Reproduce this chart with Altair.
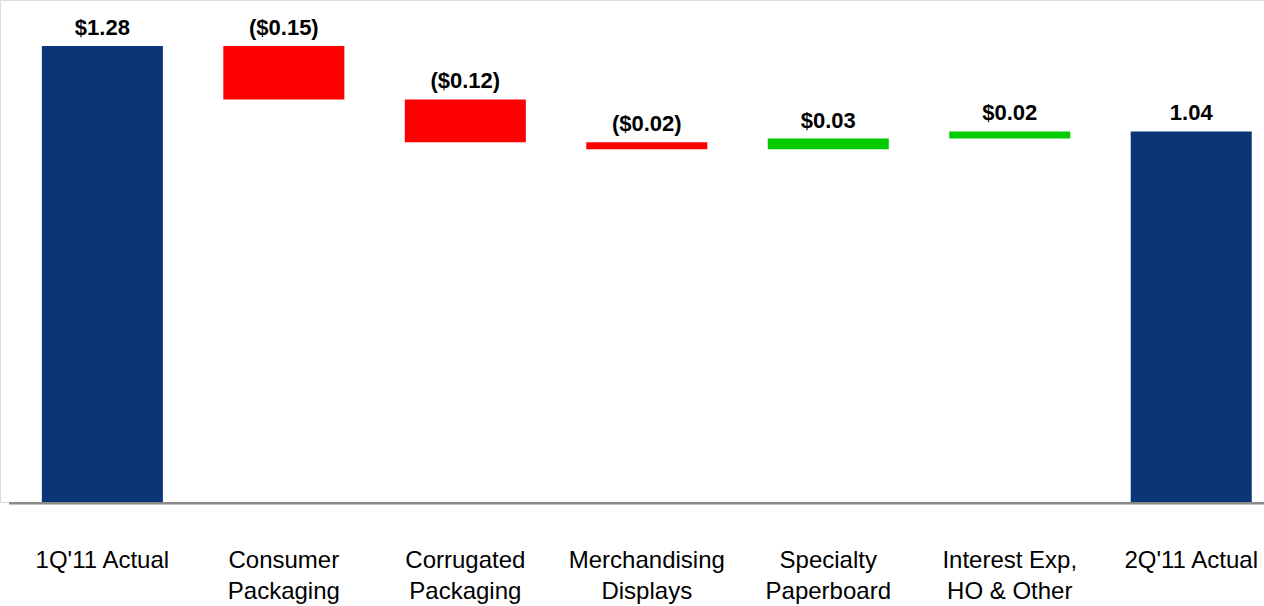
import altair as alt
import pandas as pd

categories = ["1Q'11 Actual", "Consumer\nPackaging", "Corrugated\nPackaging",
              "Merchandising\nDisplays", "Specialty\nPaperboard",
              "Interest Exp,\nHO & Other", "2Q'11 Actual"]
values = [1.28, -0.15, -0.12, -0.02, 0.03, 0.02, 1.04]
kinds = ["total", "delta", "delta", "delta", "delta", "delta", "total"]
labels = ["$1.28", "($0.15)", "($0.12)", "($0.02)", "$0.03", "$0.02", "1.04"]

rows = []
running = 0.0
for c, v, k, lab in zip(categories, values, kinds, labels):
    if k == "total":
        start, end = 0.0, v
        running = v
        t = "Total"
    else:
        start, end = running, running + v
        running = end
        t = "Decrease" if v < 0 else "Increase"
    rows.append({"cat": c, "start": start, "end": end, "top": max(start, end),
                 "type": t, "label": lab})
df = pd.DataFrame(rows)

FONT = "Liberation Sans, Arial, sans-serif"

x = alt.X("cat:N", sort=categories,
          scale=alt.Scale(range=[11.6, 1282], paddingInner=0.333, paddingOuter=0.1667),
          axis=alt.Axis(title=None, domain=False, ticks=False, grid=False,
                        labelAngle=0, labelFontSize=24, labelFont=FONT,
                        labelColor="#000000", labelPadding=46, labelLineHeight=31,
                        labelExpr="split(datum.value, '\\n')", labelLimit=400))
yscale = alt.Scale(domain=[0, 1.409], nice=False, zero=False)

base = alt.Chart(df)

axis_line = alt.Chart(pd.DataFrame({"v": [0]})).mark_rect(color="#8a8a8a").encode(
    x=alt.value(9), x2=alt.value(1264), y=alt.value(502), y2=alt.value(504.5)
)

bars = base.mark_bar().encode(
    x=x,
    y=alt.Y("start:Q", scale=yscale, axis=None),
    y2="end:Q",
    color=alt.Color("type:N",
                    scale=alt.Scale(domain=["Total", "Decrease", "Increase"],
                                    range=["#0a3678", "#ff0000", "#00cc00"]),
                    legend=None),
)

text = base.mark_text(font=FONT, fontSize=22, fontWeight="bold", color="#000000",
                      baseline="alphabetic", dy=-11).encode(
    x=alt.X("cat:N", sort=categories),
    y=alt.Y("top:Q", scale=yscale, axis=None),
    text="label:N",
)

chart = (
    alt.layer(axis_line, bars, text)
    .properties(
        width=1264, height=502,
        autosize=alt.AutoSizeParams(type="none"),
        padding={"left": 0, "top": 0, "right": 0, "bottom": 104},
    )
    .configure_view(stroke="transparent", strokeWidth=0, fill="white")
    .configure_axisY(domain=False, grid=False, ticks=False, labels=False)
    .configure(background="white")
)

chart.save("out.html", embed_options={"renderer": "svg", "actions": False})
